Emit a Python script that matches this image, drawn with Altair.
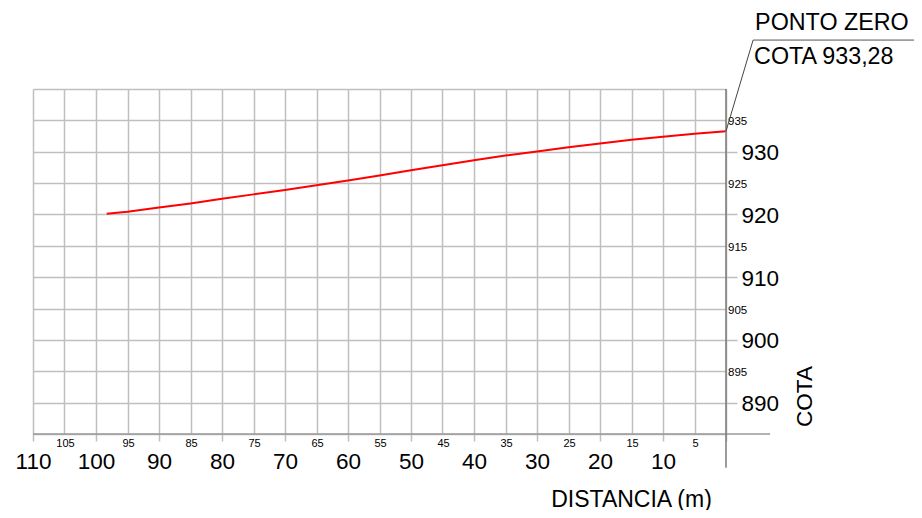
import altair as alt
import pandas as pd

# profile data (distance from zero point in m, elevation)
dist = [98.3, 95, 90, 85, 80, 75, 70, 65, 60, 55, 50, 45, 40, 35, 30, 25, 20, 15, 10, 5, 0]
cota = [920.1, 920.45, 921.1, 921.75, 922.5, 923.2, 923.9, 924.65, 925.4, 926.2,
        927.05, 927.85, 928.65, 929.4, 930.05, 930.7, 931.3, 931.9, 932.4, 932.85, 933.28]

x_grid = list(range(0, 111, 5))
y_grid = list(range(885, 941, 5))
x_minor = [105, 95, 85, 75, 65, 55, 45, 35, 25, 15, 5]
y_minor = [895, 905, 915, 925, 935]

x_domain = [0, 110]
y_domain = [885, 940]

# frame lines extents
bottom_line = {"x": [110], "x2": [-7], "y": [885]}
right_line = {"x": [0], "y": [940], "y2": [879.6]}

# annotation
ann_point = {"x": [0], "y": [933.28], "x2": [-4.3], "y2": [947.8]}
ann_under = {"x": [-4.3], "x2": [-30], "y": [947.8]}
ann_lines = ["PONTO ZERO", "COTA 933,28"]

FONT = "Liberation Sans"
GRID = "#bfbfbf"

xs = alt.Scale(domain=x_domain, reverse=True, nice=False, zero=False)
ys = alt.Scale(domain=y_domain, nice=False, zero=False)

xaxis = alt.Axis(
    values=x_grid, grid=True, gridColor=GRID, gridWidth=1.5, domain=False,
    tickSize=7, tickColor=GRID, tickWidth=1.5,
    tickOpacity={"condition": {"test": "datum.value % 10 == 0", "value": 1}, "value": 0},
    labelExpr="datum.value % 10 == 0 && datum.value > 0 ? datum.label : ''",
    labelFontSize=22.5, labelPadding=9, labelColor="black", labelFont=FONT,
    labelOverlap=False, labelFlush=False, labelBound=False,
    title="DISTANCIA (m)", titleFont=FONT, titleFontSize=23, titleFontWeight="normal",
    titleColor="black", titleX=598, titleY=72, titleAlign="center", titleBaseline="alphabetic",
)
yaxis = alt.Axis(
    orient="right", values=y_grid, grid=True, gridColor=GRID, gridWidth=1.5, domain=False,
    tickSize=11, tickColor=GRID, tickWidth=1.5,
    tickOpacity={"condition": {"test": "datum.value % 10 == 0 && datum.value < 940", "value": 1}, "value": 0},
    labelExpr="datum.value % 10 == 0 && datum.value < 940 ? datum.label : ''",
    labelFontSize=22.5, labelPadding=4, labelOffset=1, labelColor="black", labelFont=FONT,
    labelOverlap=False, labelFlush=False, labelBound=False,
    title="COTA", titleFont=FONT, titleFontSize=22.5, titleFontWeight="normal", titleColor="black",
    titleAngle=270, titleX=85, titleY=307, titleAlign="center", titleBaseline="alphabetic",
)

def X(f="x"):
    return alt.X(f"{f}:Q", scale=xs, axis=xaxis)

def Y(f="y"):
    return alt.Y(f"{f}:Q", scale=ys, axis=yaxis)

line = alt.Chart(pd.DataFrame({"x": dist, "y": cota})).mark_line(
    color="#ff0000", strokeWidth=2
).encode(x=X(), y=Y())

bottom = alt.Chart(pd.DataFrame(bottom_line)).mark_rule(color="#9a9a9a", strokeWidth=1.5).encode(
    x=X(), x2="x2:Q", y=Y()
)
right = alt.Chart(pd.DataFrame(right_line)).mark_rule(color="#7a7a7a", strokeWidth=1.5).encode(
    x=X(), y=Y(), y2="y2:Q"
)

ymin_df = pd.DataFrame({"x": [0] * len(y_minor), "y": y_minor, "t": [str(v) for v in y_minor]})
ymin = alt.Chart(ymin_df).mark_text(
    align="left", baseline="middle", dx=2, dy=2, fontSize=11.5, font=FONT, color="black"
).encode(x=X(), y=Y(), text="t:N")

xmin_df = pd.DataFrame({"x": x_minor, "y": [885] * len(x_minor), "t": [str(v) for v in x_minor]})
xmin = alt.Chart(xmin_df).mark_text(
    align="center", baseline="top", dx=1, dy=4, fontSize=11, font=FONT, color="black"
).encode(x=X(), y=Y(), text="t:N")

diag = alt.Chart(pd.DataFrame(ann_point)).mark_rule(color="#444444", strokeWidth=1).encode(
    x=X(), y=Y(), x2="x2:Q", y2="y2:Q"
)
under = alt.Chart(pd.DataFrame(ann_under)).mark_rule(color="#555555", strokeWidth=1).encode(
    x=X(), x2="x2:Q", y=Y()
)
t1 = alt.Chart(pd.DataFrame({"x": [-4.3], "y": [947.8], "t": [ann_lines[0]]})).mark_text(
    align="left", baseline="alphabetic", dx=2, dy=-10, fontSize=23.3, font=FONT, color="black"
).encode(x=X(), y=Y(), text="t:N")
t2 = alt.Chart(pd.DataFrame({"x": [-4.3], "y": [947.8], "t": [ann_lines[1]]})).mark_text(
    align="left", baseline="alphabetic", dx=1, dy=23.5, fontSize=23.3, font=FONT, color="black"
).encode(x=X(), y=Y(), text="t:N")

chart = alt.layer(line, bottom, right, ymin, xmin, diag, under, t1, t2).properties(
    width=693, height=345,
    autosize=alt.AutoSizeParams(type="none"),
    padding={"left": 25, "top": 81, "right": 188, "bottom": 76},
    background="white",
).configure_view(stroke=None).configure(font=FONT)

chart.save("out.html", embed_options={"renderer": "svg", "actions": False})
